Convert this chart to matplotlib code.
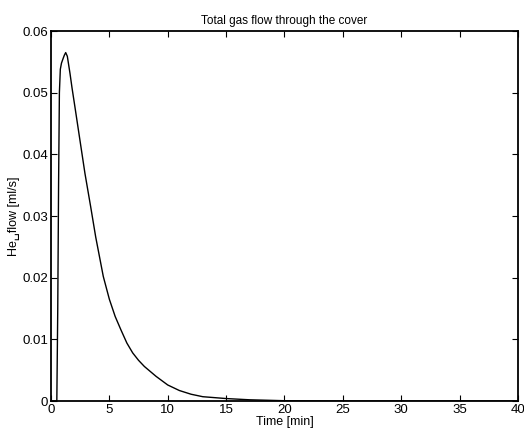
import matplotlib
matplotlib.use('Agg')
import matplotlib.pyplot as plt
import numpy as np

plt.rcParams['font.family'] = ['Liberation Sans', 'DejaVu Sans']

# Helium flow
time_min = [0.0, 0.5, 0.58, 0.65, 0.72, 0.8, 0.9, 1.05, 1.15, 1.26, 1.4, 1.63, 1.8, 2.05,
            2.48, 2.91, 3.4, 3.83, 4.48, 5.0, 5.5, 6.0, 6.5, 7.0, 7.5, 8.0, 9.0, 10.0,
            11.0, 12.0, 13.0, 15.0, 17.0, 20.0, 25.0, 40.0]
he_flow = [0.0, 0.0, 0.015, 0.035, 0.050, 0.0538, 0.0548, 0.0556, 0.0561, 0.0565, 0.0559,
           0.0531, 0.0508, 0.0477, 0.0423, 0.0369, 0.0315, 0.0266, 0.0202, 0.0165,
           0.0137, 0.0115, 0.0094, 0.0078, 0.0066, 0.0056, 0.0040, 0.0026, 0.0017,
           0.0011, 0.0007, 0.0004, 0.0002, 0.00005, 0.0, 0.0]

xticks = [0, 5, 10, 15, 20, 25, 30, 35, 40]
yticks = [0, 0.01, 0.02, 0.03, 0.04, 0.05, 0.06]

fig = plt.figure(figsize=(5.24, 4.30), dpi=100)
ax = fig.add_axes([0.0973, 0.0674, 0.8912, 0.8605])

ax.plot(time_min, he_flow, color='black', linewidth=1.0)

ax.set_xlim(0, 40)
ax.set_ylim(0, 0.06)
ax.set_xticks(xticks)
ax.set_xticklabels([str(t) for t in xticks])
ax.set_yticks(yticks)
ax.set_yticklabels(['0', '0.01', '0.02', '0.03', '0.04', '0.05', '0.06'])
ax.tick_params(direction='in', length=4, width=0.8, top=True, right=True,
               labelsize=9.5, pad=2)
for s in ax.spines.values():
    s.set_linewidth(1.3)

ax.set_title('Total gas flow through the cover', fontsize=8.5, pad=5)
ax.set_xlabel('Time [min]', fontsize=9, labelpad=0)
ax.set_ylabel('He\u2423flow [ml/s]', fontsize=9, labelpad=2)

fig.savefig('out.png', dpi=100)
